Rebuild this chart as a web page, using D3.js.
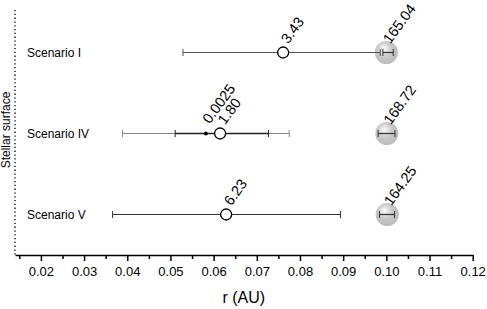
<!DOCTYPE html>
<html>
<head>
<meta charset="utf-8">
<script src="https://cdn.jsdelivr.net/npm/d3@7"></script>
<style>
  body { margin: 0; background: #fff; }
  text { font-family: "Liberation Sans", Arial, sans-serif; }
</style>
</head>
<body>
<div id="chart"></div>
<script>
const scenarios = ['Scenario I', 'Scenario IV', 'Scenario V'];

// open circle: best estimate with its error range
const mainR = [0.0761, 0.0615, 0.0629];
const mainLo = [0.0529, 0.0389, 0.0366];
const mainHi = [0.0986, 0.0775, 0.0894];
const mainLabels = ['3.43', '1.80', '6.23'];

// Scenario IV has a second, narrower range and a small dot
const innerLo = [null, 0.0511, null];
const innerHi = [null, 0.0727, null];
const dotR = [null, 0.0582, null];
const dotLabels = [null, '0.0025', null];

// grey planet marker at ~0.1 AU
const planetR = [0.1000, 0.1001, 0.1002];
const planetLo = [0.0992, 0.0981, 0.0984];
const planetHi = [0.1016, 0.1020, 0.1019];
const planetLabels = ['165.04', '168.72', '164.25'];

const stellarSurface = 0.014;
const xTicks = [0.02, 0.03, 0.04, 0.05, 0.06, 0.07, 0.08, 0.09, 0.10, 0.11, 0.12];

const width = 487, height = 309;
const svg = d3.select('#chart').append('svg')
    .attr('width', width)
    .attr('height', height);

const defs = svg.append('defs');
const grad = defs.append('radialGradient')
    .attr('id', 'ball')
    .attr('cx', '45%').attr('cy', '42%').attr('r', '58%')
    .attr('fx', '38%').attr('fy', '30%');
grad.append('stop').attr('offset', '0%').attr('stop-color', '#ffffff');
grad.append('stop').attr('offset', '22%').attr('stop-color', '#e6e6e6');
grad.append('stop').attr('offset', '55%').attr('stop-color', '#c8c8c8');
grad.append('stop').attr('offset', '100%').attr('stop-color', '#bbbbbb');

const x = d3.scaleLinear()
    .domain([stellarSurface, 0.12])
    .range([15, 472.7]);

const y = d3.scalePoint()
    .domain(scenarios)
    .range([52.5, 214.5]);

const axisY = 255;

// major + minor ticks
const minorTicks = d3.range(0.015, 0.1201, 0.01);
svg.append('g')
    .attr('transform', `translate(0,${axisY})`)
    .call(d3.axisBottom(x).tickValues(minorTicks).tickSize(4).tickFormat(''))
    .call(g => g.select('.domain').remove())
    .call(g => g.selectAll('line').attr('stroke', '#000').attr('stroke-width', 1.5));

const xAxis = svg.append('g')
    .attr('transform', `translate(0,${axisY})`)
    .call(d3.axisBottom(x).tickValues(xTicks).tickSize(6).tickSizeOuter(0).tickPadding(6)
        .tickFormat(d3.format('.2f')));
xAxis.select('.domain').attr('stroke', '#000').attr('stroke-width', 1.5);
xAxis.selectAll('line').attr('stroke', '#000').attr('stroke-width', 1.5);
xAxis.selectAll('text')
    .style('font-size', '13px')
    .attr('fill', '#000');

svg.append('text')
    .attr('x', x(0.067))
    .attr('y', 303)
    .attr('text-anchor', 'middle')
    .style('font-size', '16px')
    .text('r (AU)');

// stellar surface dotted line
svg.append('line')
    .attr('x1', x(stellarSurface)).attr('x2', x(stellarSurface))
    .attr('y1', 10).attr('y2', axisY)
    .attr('stroke', '#000')
    .attr('stroke-width', 1.3)
    .attr('stroke-dasharray', '1.3,2.5');

svg.append('text')
    .attr('transform', `translate(10,${130}) rotate(-90)`)
    .attr('text-anchor', 'middle')
    .style('font-size', '12px')
    .text('Stellar surface');

// scenario labels
svg.selectAll('.scen')
    .data(scenarios)
    .join('text')
    .attr('class', 'scen')
    .attr('x', 27)
    .attr('y', d => y(d) + 4)
    .style('font-size', '12px')
    .text(d => d);

const capH = 3.5;
function errorBar(g, lo, hi, yy, color, width) {
    g.append('line')
        .attr('x1', x(lo)).attr('x2', x(hi))
        .attr('y1', yy).attr('y2', yy)
        .attr('stroke', color).attr('stroke-width', width);
    [lo, hi].forEach(v => {
        g.append('line')
            .attr('x1', x(v)).attr('x2', x(v))
            .attr('y1', yy - capH).attr('y2', yy + capH)
            .attr('stroke', color).attr('stroke-width', 1);
    });
}

function rotLabel(g, px, py, txt) {
    g.append('text')
        .attr('transform', `translate(${px + 5},${py - 8}) rotate(-54)`)
        .style('font-size', '14.5px')
        .text(txt);
}

const outerColor = ['#555', '#888', '#333'];

scenarios.forEach((s, i) => {
    const g = svg.append('g');
    const yy = y(s);

    // main line running to the planet
    if (i === 0) {
        g.append('line')
            .attr('x1', x(mainLo[i])).attr('x2', x(planetR[i]))
            .attr('y1', yy).attr('y2', yy)
            .attr('stroke', '#555').attr('stroke-width', 1.2);
    }

    // planet ball
    g.append('circle')
        .attr('cx', x(planetR[i])).attr('cy', yy).attr('r', 11.5)
        .attr('fill', 'url(#ball)');

    errorBar(g, mainLo[i], mainHi[i], yy, outerColor[i], 1.2);
    if (innerLo[i] != null) errorBar(g, innerLo[i], innerHi[i], yy, '#222', 1.3);
    errorBar(g, planetLo[i], planetHi[i], yy, '#333', 1.2);

    if (dotR[i] != null) {
        g.append('circle')
            .attr('cx', x(dotR[i])).attr('cy', yy).attr('r', 2)
            .attr('fill', '#000');
    }

    g.append('circle')
        .attr('cx', x(mainR[i])).attr('cy', yy).attr('r', 5.5)
        .attr('fill', '#fff')
        .attr('stroke', '#000').attr('stroke-width', 1.3);

    if (dotR[i] != null) rotLabel(g, x(dotR[i]) - 1, yy - 1, dotLabels[i]);
    rotLabel(g, x(mainR[i]), yy, mainLabels[i]);
    rotLabel(g, x(planetR[i]) - 1, yy, planetLabels[i]);
});
</script>
</body>
</html>
